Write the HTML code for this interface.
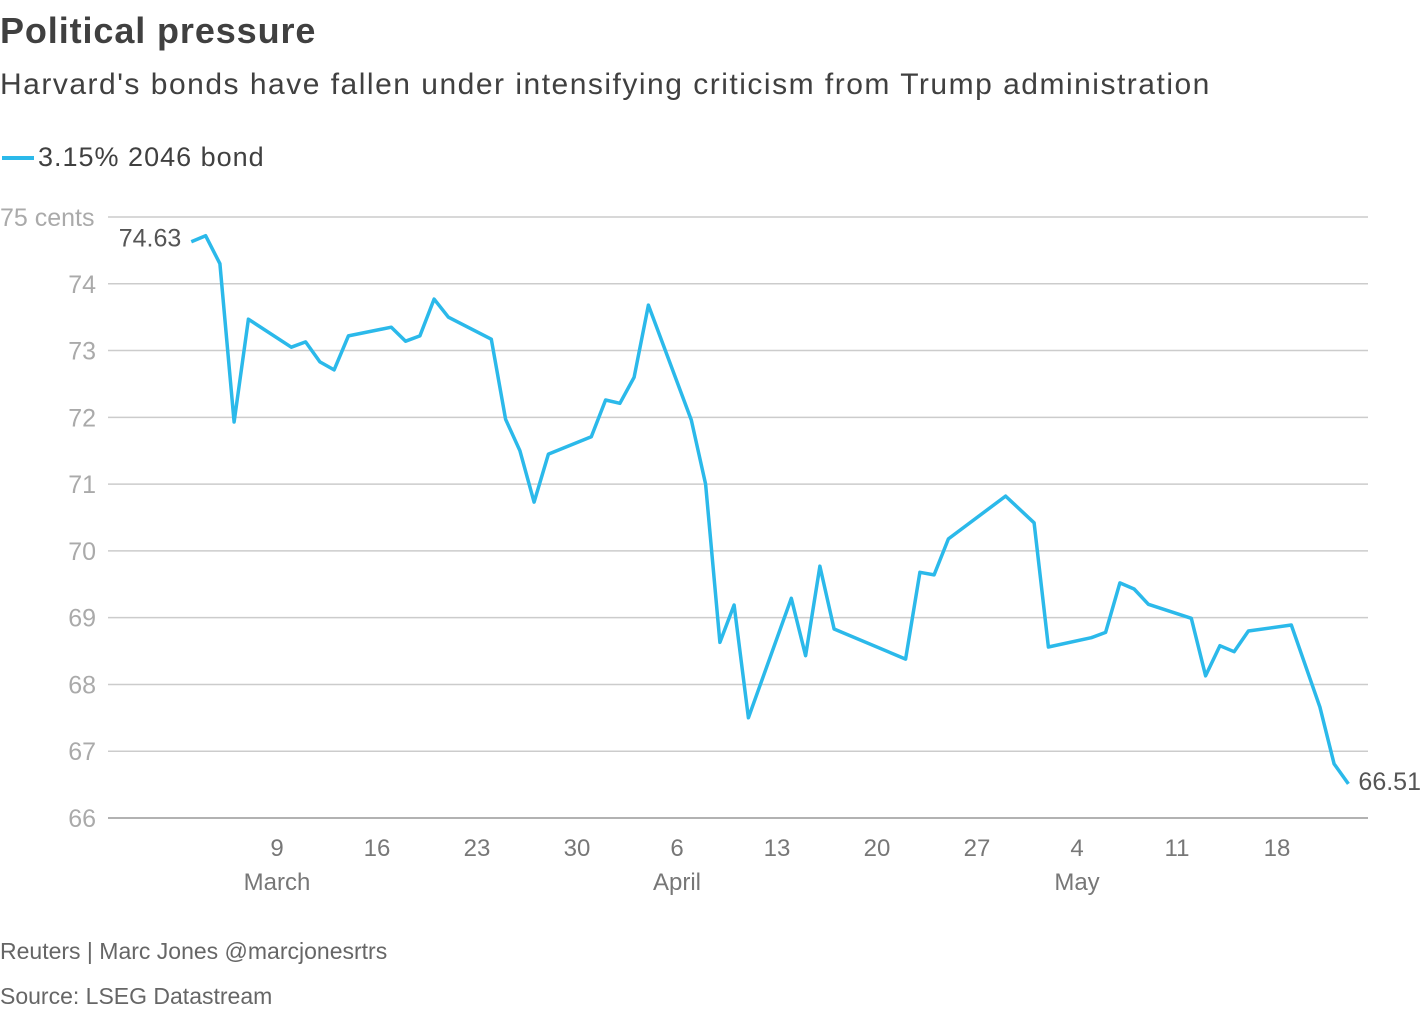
<!DOCTYPE html>
<html><head><meta charset="utf-8"><style>
body{margin:0;background:#fff;width:1420px;height:1010px;overflow:hidden;font-family:"Liberation Sans",sans-serif}
.t{position:absolute;white-space:nowrap}
</style></head><body>
<div class="t" style="left:0;top:10px;font-size:36px;font-weight:bold;color:#404040;letter-spacing:0.9px">Political pressure</div>
<div class="t" style="left:0;top:68px;font-size:30px;color:#404040;letter-spacing:1.5px">Harvard's bonds have fallen under intensifying criticism from Trump administration</div>
<div style="position:absolute;left:0;top:142px;height:34px">
<div style="position:absolute;left:2px;top:14px;width:32px;height:4px;background:#2bb9ea"></div>
<div class="t" style="left:38px;top:0;font-size:27px;color:#404040;letter-spacing:1px">3.15% 2046 bond</div>
</div>
<svg id="chart" width="1420" height="1010" style="position:absolute;left:0;top:0"></svg>
<div class="t" style="left:0;top:938px;font-size:23px;color:#666">Reuters | Marc Jones @marcjonesrtrs</div>
<div class="t" style="left:0;top:983px;font-size:23px;color:#666">Source: LSEG Datastream</div>
<script>
const dayOffsets=[-6,-5,-4,-3,-2,1,2,3,4,5,8,9,10,11,12,15,16,17,18,19,22,23,24,25,26,29,30,31,32,33,36,37,38,39,44,45,46,47,51,53,54,57,58,59,60,61,64,65,66,67,68,71,73,74,75];
const values=[74.63,74.72,74.30,71.93,73.47,73.05,73.13,72.83,72.71,73.22,73.35,73.14,73.22,73.77,73.50,73.17,71.97,71.50,70.73,71.45,71.71,72.26,72.21,72.60,73.68,71.96,71.0,68.63,69.19,67.50,69.29,68.43,69.77,68.83,68.38,69.68,69.64,70.18,70.82,70.42,68.56,68.70,68.78,69.52,69.43,69.20,68.99,68.13,68.58,68.49,68.80,68.89,67.66,66.81,66.51];
const yTicks=[66,67,68,69,70,71,72,73,74,75];
const yTickLabels=["66","67","68","69","70","71","72","73","74","75 cents"];
const xTickDays=[0,7,14,21,28,35,42,49,56,63,70];
const xTickLabels=["9","16","23","30","6","13","20","27","4","11","18"];
const monthDays=[0,28,56];
const monthLabels=["March","April","May"];
const NS="http://www.w3.org/2000/svg";
const svg=document.getElementById('chart');
const X=d=>277+d*100/7;
const Y=v=>818-(v-66)*(818-217)/9;
function mk(tag,attrs){const e=document.createElementNS(NS,tag);for(const k in attrs)e.setAttribute(k,attrs[k]);svg.appendChild(e);return e;}
yTicks.forEach((v,i)=>{
  const g=mk('line',{x1:108,x2:1368,y1:Y(v),y2:Y(v),stroke:i==0?'#999':'#ccc','stroke-width':1.5});
  
  
  const t=mk('text',{x:i==yTicks.length-1?0:96,y:Y(v)+9,'text-anchor':i==yTicks.length-1?'start':'end','font-size':25,fill:'#aaa','font-family':'Liberation Sans'});
  t.textContent=yTickLabels[i];
  
  
});
xTickDays.forEach((d,i)=>{
  const t=mk('text',{x:X(d),y:856,'text-anchor':'middle','font-size':24,fill:'#777','font-family':'Liberation Sans'});
  t.textContent=xTickLabels[i];
  
  
});
monthDays.forEach((d,i)=>{
  const t=mk('text',{x:X(d),y:890,'text-anchor':'middle','font-size':24,fill:'#777','font-family':'Liberation Sans'});
  t.textContent=monthLabels[i];
  
  
});
const pts=dayOffsets.map((d,i)=>X(d).toFixed(1)+','+Y(values[i]).toFixed(1)).join(' ');
const line=mk('polyline',{points:pts,fill:'none',stroke:'#2bb9ea','stroke-width':3.5,'stroke-linejoin':'round'});


const n=values.length;
const a=mk('text',{x:X(dayOffsets[0])-10,y:Y(values[0])+5,'text-anchor':'end','font-size':25,fill:'#555','font-family':'Liberation Sans'});
a.textContent=values[0].toFixed(2);


const b=mk('text',{x:X(dayOffsets[n-1])+10,y:Y(values[n-1])+6,'text-anchor':'start','font-size':25,fill:'#555','font-family':'Liberation Sans'});
b.textContent=values[n-1].toFixed(2);


</script>
</body></html>
